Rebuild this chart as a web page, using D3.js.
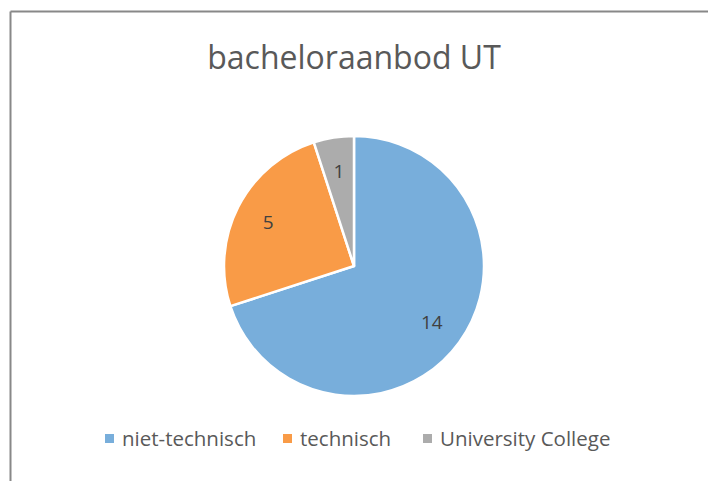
<!DOCTYPE html>
<html>
<head>
<meta charset="utf-8">
<script src="https://cdn.jsdelivr.net/npm/d3@7"></script>
<style>
  html, body { margin: 0; padding: 0; background: #fff; }
  svg { display: block; font-family: "Open Sans", "Noto Sans", sans-serif; }
</style>
</head>
<body>
<svg id="chart" width="708" height="481"></svg>
<script>
const title = "bacheloraanbod UT";
const categories = ["niet-technisch", "technisch", "University College"];
const values = [14, 5, 1];
const colors = ["#78AEDB", "#F99B47", "#ACACAC"];

const svg = d3.select("#chart");

// chart frame (only top and left edges visible in the crop)
svg.append("line").attr("x1", 10.5).attr("y1", 11.5).attr("x2", 708).attr("y2", 11.5)
  .attr("stroke", "#888", "").attr("stroke-width", 2);
svg.append("line").attr("x1", 10.5).attr("y1", 11.5).attr("x2", 10.5).attr("y2", 481)
  .attr("stroke", "#888").attr("stroke-width", 2);

svg.append("text")
  .attr("x", 354).attr("y", 69)
  .attr("text-anchor", "middle")
  .attr("font-size", 32)
  .attr("fill", "#595959")
  .text(title);

const cx = 354, cy = 266, r = 130;
const pie = d3.pie().sort(null).value(d => d)(values);
const arc = d3.arc().innerRadius(0).outerRadius(r);
const labelArc = d3.arc().innerRadius(r * 0.74).outerRadius(r * 0.74);

const g = svg.append("g").attr("transform", `translate(${cx},${cy})`);
g.selectAll("path.slice").data(pie).join("path")
  .attr("class", "slice")
  .attr("d", arc)
  .attr("fill", (d, i) => colors[i])
  .attr("stroke", "#fff")
  .attr("stroke-width", 2.5)
  .attr("stroke-linejoin", "round");

g.selectAll("text.lbl").data(pie).join("text")
  .attr("class", "lbl")
  .attr("transform", d => `translate(${labelArc.centroid(d)})`)
  .attr("text-anchor", "middle")
  .attr("dy", "0.35em")
  .attr("font-size", 19)
  .attr("fill", "#404040")
  .text(d => d.data);

// legend
const legendX = [105, 283, 423];
const lg = svg.append("g");
categories.forEach((c, i) => {
  lg.append("rect").attr("x", legendX[i]).attr("y", 434).attr("width", 9).attr("height", 9)
    .attr("fill", colors[i]);
  lg.append("text").attr("x", legendX[i] + 17).attr("y", 446)
    .attr("font-size", 20.5).attr("fill", "#595959").text(c);
});
</script>
</body>
</html>
